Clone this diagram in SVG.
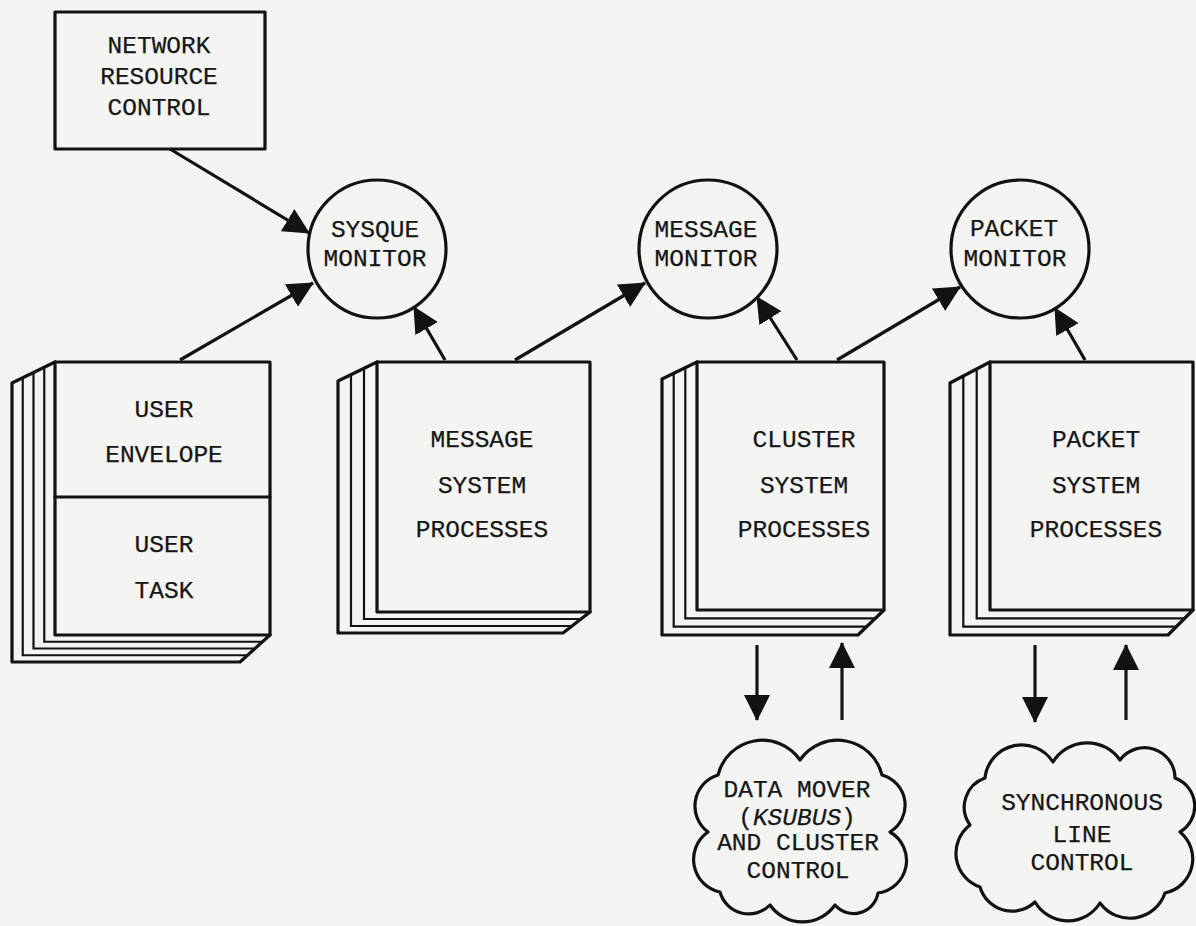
<svg xmlns="http://www.w3.org/2000/svg" width="1196" height="926" viewBox="0 0 1196 926">
<defs>
<style>
.t{font-family:"Liberation Mono","Courier New",monospace;font-size:24.5px;fill:#161616;stroke:#161616;stroke-width:0.25;text-anchor:middle}
.o{fill:none;stroke:#121212;stroke-width:3.2;stroke-linejoin:round;stroke-linecap:round}
.f{fill:#f4f4f2;stroke:#121212;stroke-width:3.2;stroke-linejoin:round}
.p{fill:none;stroke:#121212;stroke-width:2.2;stroke-linecap:round}
.c{fill:none;stroke:#121212;stroke-width:3.2;stroke-linejoin:round}
</style>
<marker id="ah" viewBox="0 0 26 26" refX="25" refY="13" markerWidth="26" markerHeight="26" markerUnits="userSpaceOnUse" orient="auto">
<path d="M0,0 L26,13 L0,26 z" fill="#121212"/>
</marker>
</defs>
<rect x="0" y="0" width="1196" height="926" fill="#f4f4f2"/>

<g id="network-resource-control">
<rect class="f" x="55" y="12" width="210" height="137"/>
<text class="t" x="159" y="53">NETWORK</text>
<text class="t" x="159" y="84">RESOURCE</text>
<text class="t" x="159" y="115">CONTROL</text>
</g>

<g id="sysque-monitor">
<circle class="f" cx="377" cy="249" r="69"/>
<text class="t" x="375" y="237">SYSQUE</text>
<text class="t" x="375" y="266">MONITOR</text>
</g>

<g id="message-monitor">
<circle class="f" cx="708" cy="249" r="69"/>
<text class="t" x="706" y="237">MESSAGE</text>
<text class="t" x="706" y="266">MONITOR</text>
</g>

<g id="packet-monitor">
<circle class="f" cx="1020" cy="249" r="69"/>
<text class="t" x="1014" y="236">PACKET</text>
<text class="t" x="1015" y="266">MONITOR</text>
</g>

<g id="user-book">
<path class="o" d="M55,362 L12,383 L12,662 L240,662 L270,635"/>
<path class="p" d="M44.25,367.25 L44.25,641.75 L262.5,641.75 M33.5,372.5 L33.5,648.5 L255,648.5 M22.75,377.75 L22.75,655.25 L247.5,655.25"/>
<rect class="f" x="55" y="362" width="215" height="273"/>
<line class="o" x1="55" y1="497" x2="270" y2="497"/>
<text class="t" x="164" y="417">USER</text>
<text class="t" x="164" y="462">ENVELOPE</text>
<text class="t" x="164" y="552">USER</text>
<text class="t" x="164" y="598">TASK</text>
</g>

<g id="message-system-processes">
<path class="o" d="M377,362 L338,381 L338,633 L563,633 L590,612"/>
<path class="p" d="M364,368.3 L364,619 L581,619 M351,374.7 L351,626 L572,626"/>
<rect class="f" x="377" y="362" width="213" height="250"/>
<text class="t" x="482" y="447">MESSAGE</text>
<text class="t" x="482" y="493">SYSTEM</text>
<text class="t" x="482" y="537">PROCESSES</text>
</g>

<g id="cluster-system-processes">
<path class="o" d="M697,362 L662,379 L662,635 L858,635 L884,610"/>
<path class="p" d="M685.3,367.7 L685.3,618.3 L875.3,618.3 M673.7,373.3 L673.7,626.7 L866.7,626.7"/>
<rect class="f" x="697" y="362" width="187" height="248"/>
<text class="t" x="804" y="447">CLUSTER</text>
<text class="t" x="804" y="493">SYSTEM</text>
<text class="t" x="804" y="537">PROCESSES</text>
</g>

<g id="packet-system-processes">
<path class="o" d="M990,362 L950,383 L950,635 L1168,635 L1193,610"/>
<path class="p" d="M976.7,369 L976.7,618.3 L1184.7,618.3 M963.3,376 L963.3,626.7 L1176.3,626.7"/>
<rect class="f" x="990" y="362" width="203" height="248"/>
<text class="t" x="1096" y="447">PACKET</text>
<text class="t" x="1096" y="493">SYSTEM</text>
<text class="t" x="1096" y="537">PROCESSES</text>
</g>

<g id="data-mover-cloud">
<path class="c" d="M718,775 A45.7,45.7 0 0 1 800,760 A45.7,45.7 0 0 1 882,775 A31.3,31.3 0 0 1 890,832 A32.8,32.8 0 0 1 878,893 A24.7,24.7 0 0 1 835,905 A39.6,39.6 0 0 1 770,905 A29.8,29.8 0 0 1 720,892 A33.3,33.3 0 0 1 708,832 A32.4,32.4 0 0 1 718,775 Z"/>
<text class="t" x="797" y="797">DATA MOVER</text>
<text class="t" x="797" y="825">(<tspan font-style="italic">KSUBUS</tspan>)</text>
<text class="t" x="798" y="850">AND CLUSTER</text>
<text class="t" x="798" y="878">CONTROL</text>
</g>

<g id="synchronous-line-control-cloud">
<path class="c" d="M985,778 A37,37 0 0 1 1053,762 A40,40 0 0 1 1120,760 A30.5,30.5 0 0 1 1175,778 A30,30 0 0 1 1180,832 A34.8,34.8 0 0 1 1165,893 A37,37 0 0 1 1100,903 A38,38 0 0 1 1035,902 A33.4,33.4 0 0 1 980,887 A35.6,35.6 0 0 1 970,825 A30.8,30.8 0 0 1 985,778 Z"/>
<text class="t" x="1082" y="810">SYNCHRONOUS</text>
<text class="t" x="1082" y="842">LINE</text>
<text class="t" x="1082" y="870">CONTROL</text>
</g>

<g id="connectors" fill="none" stroke="#121212" stroke-width="3.2" marker-end="url(#ah)">
<path d="M170,149 L309,233"/>
<path d="M180,360 L313,283"/>
<path d="M445,360 L414,307"/>
<path d="M515,360 L645,283"/>
<path d="M797,360 L757,297"/>
<path d="M837,360 L960,287"/>
<path d="M1085,360 L1055,308"/>
<path d="M757,645 L757,720"/>
<path d="M842,720 L842,643"/>
<path d="M1035,645 L1035,722"/>
<path d="M1126,720 L1126,645"/>
</g>
</svg>
